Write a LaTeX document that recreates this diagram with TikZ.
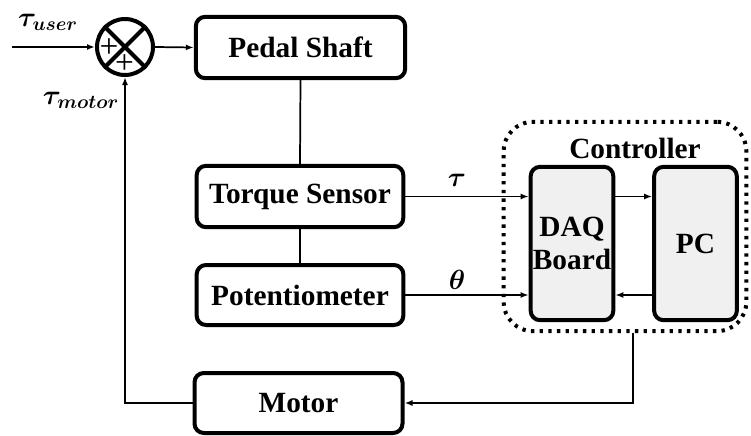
\documentclass[tikz,border=0pt]{standalone}
\usepackage{fontspec}
\setmainfont{Liberation Serif}
\usepackage{amsmath}
\usepackage{bm}
\usetikzlibrary{arrows.meta}

\begin{document}
\begin{tikzpicture}[x=0.75pt,y=0.75pt,yscale=-1,xscale=1,
  blk/.style={draw,line width=3pt,rounded corners=7pt,inner sep=0pt,font=\fontsize{22}{26}\selectfont\bfseries},
  daqblk/.style={blk,fill=black!6},
  sig/.style={line width=1.3pt,-{Latex[length=6pt,width=4.5pt]}},
  wire/.style={line width=1.3pt},
  lbl/.style={inner sep=0.75pt,font=\fontsize{21}{25}\selectfont}]
\useasboundingbox (0,0) rectangle (751,436);
% blocks
\node (sum) [draw,circle,line width=3pt,minimum size=42pt,inner sep=0pt] at (125,47) {};
\draw[line width=3pt] (sum.north west) -- (sum.south east) (sum.north east) -- (sum.south west);
\node (pedal) [blk,minimum width=157pt,minimum height=46pt] at (300.5,47.5) {Pedal Shaft};
\node (torque) [blk,minimum width=155pt,minimum height=46pt] at (300,196.5) {Torque Sensor};
\node (pot) [blk,minimum width=155pt,minimum height=45pt] at (300,295) {Potentiometer};
\node (motor) [blk,minimum width=156pt,minimum height=45pt] at (298.5,403) {Motor};
\node (ctrl) [draw,line width=3pt,dash pattern=on 2.5pt off 4pt,rounded corners=22pt,minimum width=182pt,minimum height=157pt] at (625,226.5) {};
\node (daq) [daqblk,minimum width=62pt,minimum height=115pt,align=center] at (572,243.5) {DAQ\\[-1pt]Board};
\node (pc) [daqblk,minimum width=62pt,minimum height=115pt] at (695.5,243.5) {PC};
\coordinate (in) at (12,47);
% Text Node
\node (ctrllbl) [inner sep=0.75pt,font=\fontsize{22}{26}\selectfont\bfseries] at (635,148) {Controller};
% Text Node
\node (plusl) [inner sep=0pt,font=\fontsize{25}{30}\selectfont] at (109,48.5) {+};
\node (plusb) [inner sep=0pt,font=\fontsize{25}{30}\selectfont] at (124.5,64.5) {+};
% Text Node
\node (tuser) [lbl] at (48,22) {$\bm{\tau}_{\bm{user}}$};
\node (tmotor) [lbl] at (81,100) {$\bm{\tau}_{\bm{motor}}$};
\node (ttau) [lbl] at (457,180) {$\bm{\tau}$};
\node (ttheta) [lbl] at (457,280) {$\bm{\theta}$};
% connectors
\draw[sig] (in) -- (sum.west);
\draw[sig] (sum.east) -- (pedal.west);
\draw[wire] (pedal.south) -- (torque.north);
\draw[wire] (torque.south) -- (pot.north);
\draw[sig] (torque.east) -- (torque.east -| daq.west);
\draw[sig] (pot.east) -- (pot.east -| daq.west);
\draw[sig] (daq.east |- torque.east) -- (pc.west |- torque.east);
\draw[sig] (pc.west |- pot.east) -- (daq.east |- pot.east);
\draw[sig] ([xshift=6pt]ctrl.south) |- (motor.east);
\draw[sig] (motor.west) -| (sum.south);
\end{tikzpicture}
\end{document}
